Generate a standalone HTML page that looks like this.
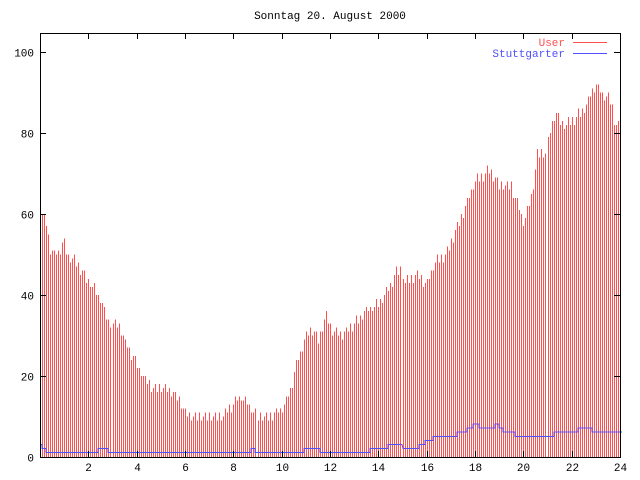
<!DOCTYPE html>
<html><head><meta charset="utf-8"><style>
html,body{margin:0;padding:0;background:#fff;}
svg{display:block;font-family:"Liberation Mono","DejaVu Sans Mono",monospace;font-size:11px;}
</style></head><body>
<svg id="s" width="640" height="480" xmlns="http://www.w3.org/2000/svg" shape-rendering="crispEdges">
<text x="330" y="19" text-anchor="middle">Sonntag 20. August 2000</text>
<g id="bars" stroke="#ff5050" stroke-width="1"></g>
<polyline id="blue" fill="none" stroke="#5050ff" stroke-width="1"/>
<rect x="40.5" y="33.5" width="580" height="424" fill="none" stroke="#000"/>
<g id="ticks" stroke="#000"></g>
<g id="labels"></g>
<text x="565" y="46" text-anchor="end" fill="#ff5050">User</text>
<line x1="573" y1="42.5" x2="607" y2="42.5" stroke="#ff5050"/>
<text x="565" y="57" text-anchor="end" fill="#5050ff">Stuttgarter</text>
<line x1="573" y1="53.5" x2="607" y2="53.5" stroke="#5050ff"/>
</svg>
<script>
var NS="http://www.w3.org/2000/svg";
function el(t,a,p){var e=document.createElementNS(NS,t);for(var k in a)e.setAttribute(k,a[k]);p.appendChild(e);return e;}
var red=[[0,66],[0.08,60],[0.25,58],[0.4,51],[0.6,50],[0.8,51],[0.95,54],[1.1,50],[1.5,48],[1.9,44],[2.2,42],[2.5,39],[2.8,34],[3,33],[3.3,32],[3.5,28],[4,23],[4.3,19],[4.7,17],[5,17],[5.3,16],[5.7,15],[6,11],[6.5,10],[7,10],[7.5,10],[8,13],[8.3,15],[8.6,13],[8.9,11],[9,10],[9.5,10],[10,12],[10.3,16],[10.7,25],[11,30],[11.2,32],[11.5,29],[11.8,35],[12,32],[12.5,30],[13,33],[13.5,36],[14,38],[14.3,40],[14.7,45],[14.95,47],[15.05,43],[15.5,45],[16,43],[16.3,48],[16.8,50],[17.2,56],[17.6,62],[18,68],[18.6,71],[19,67],[19.5,67],[19.9,60],[20,58],[20.3,63],[20.6,75],[20.95,75],[21.05,80],[21.3,85],[21.6,82],[22,83],[22.5,86],[22.8,90],[23,92],[23.3,89],[23.6,88],[23.8,82],[24,82]];
var blue=[[0,3],[0.3,1],[2.3,1],[2.4,2],[2.7,2],[2.8,1],[8.7,1],[8.8,2],[9,1],[10.8,1],[11,2],[11.5,2],[11.6,1],[13.6,1],[13.7,2],[14.3,2],[14.4,3],[14.9,3],[15,2],[15.5,2],[16,4],[16.5,5],[17,5],[17.5,6],[18,8],[18.3,7],[18.7,7],[18.9,8],[19.2,6],[20,5],[21,5],[21.5,6],[22,6],[22.5,7],[23,6],[24,6]];
function interp(d,h){for(var i=1;i<d.length;i++){if(h<=d[i][0]){var a=d[i-1],b=d[i];return a[1]+(b[1]-a[1])*(h-a[0])/(b[0]-a[0]);}}return d[d.length-1][1];}
function Y(v){return 457-v*4.05;}
var bars=document.getElementById('bars');
var pts=[];
for(var i=0;i<=288;i++){var x=40+Math.round(i*580/288);var h=i/12;
 var v=Math.round(interp(red,h)+((i*7)%5-2)*0.6);
 el('line',{x1:x+0.5,y1:457,x2:x+0.5,y2:Y(v)},bars);
 var b=Math.round(interp(blue,h));pts.push(x+','+(Y(b)-0.5));pts.push((x+2)+','+(Y(b)-0.5));}
document.getElementById('blue').setAttribute('points',pts.join(' '));
var tk=document.getElementById('ticks'),lb=document.getElementById('labels');
for(var v=0;v<=100;v+=20){var y=Math.round(Y(v))+0.5;
 el('line',{x1:40,y1:y,x2:46,y2:y},tk);el('line',{x1:614,y1:y,x2:620,y2:y},tk);
 el('text',{x:34,y:y+4,'text-anchor':'end'},lb).textContent=v;}
for(var h=2;h<=24;h+=2){var x=Math.round(40+h*24.17)+0.5;
 el('line',{x1:x,y1:457,x2:x,y2:451},tk);el('line',{x1:x,y1:33,x2:x,y2:39},tk);
 el('text',{x:x,y:471,'text-anchor':'middle'},lb).textContent=h;}
</script>
</body></html>
